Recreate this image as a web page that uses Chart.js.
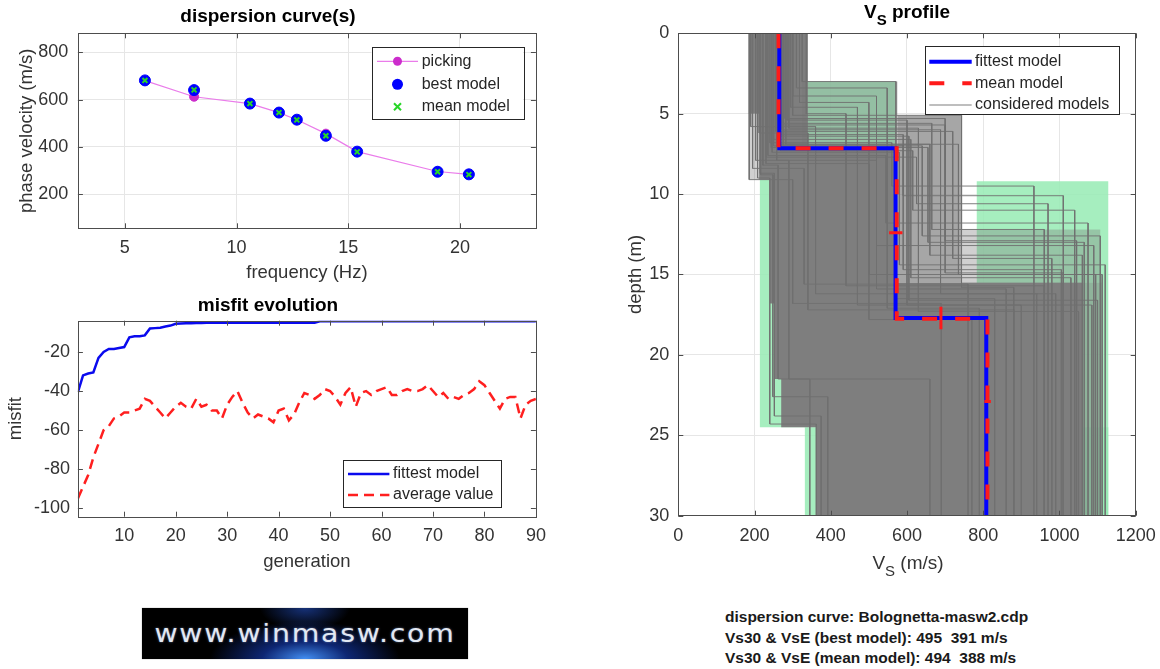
<!DOCTYPE html>
<html>
<head>
<meta charset="utf-8">
<script src="https://cdn.jsdelivr.net/npm/chart.js@4.4.1/dist/chart.umd.min.js"></script>
<style>
  body { margin: 0; background: #fff; }
  #page { position: relative; width: 1160px; height: 669px; overflow: hidden; font-family: "Liberation Sans", Arial, sans-serif; color: #262626; }
  canvas { position: absolute; }
  .lbl { position: absolute; white-space: nowrap; transform: translate(-50%, -50%); line-height: 1; }
  .sub { position: relative; top: 7px; font-size: 15px; }
  #info { position: absolute; left: 725px; top: 607px; font-weight: bold; font-size: 15.5px; line-height: 20.7px; color: #1a1a1a; white-space: nowrap; }
  #logo { position: absolute; left: 142px; top: 608px; width: 326px; height: 51px;
    background:
      radial-gradient(ellipse 95px 38px at 50% 100%, rgba(70,150,255,0.95), rgba(25,70,210,0.55) 45%, rgba(0,0,0,0) 100%),
      radial-gradient(ellipse 45px 22px at 50% 0%, rgba(40,90,220,0.55), rgba(0,0,0,0) 100%),
      #000;
    box-shadow: 0 0 1px #888; }
  #logo span { position: absolute; left: 50%; top: 12px; transform: translateX(-50%) scaleX(1.18); white-space: nowrap; font-family: "DejaVu Sans", sans-serif; font-size: 24px; letter-spacing: 1.5px; color: #e2e8f2; text-shadow: 0 0 2px rgba(160,190,255,0.6); }
</style>
</head>
<body>
<div id="page">
  <canvas id="dispersion" width="560" height="290" style="left:0;top:0"></canvas>
  <canvas id="misfit" width="560" height="290" style="left:0;top:290px"></canvas>
  <canvas id="profile" width="600" height="590" style="left:600px;top:0"></canvas>
  <div class="lbl" style="left:907px;top:11px;font-weight:bold;font-size:19px;color:#000">V<span class="sub">S</span> profile</div>
  <div class="lbl" style="left:908px;top:562px;font-size:19px;color:#333">V<span class="sub">S</span> (m/s)</div>
  <div id="logo"><span>www.winmasw.com</span></div>
  <div id="info">dispersion curve: Bolognetta-masw2.cdp<br>Vs30 &amp; VsE (best model): 495&nbsp; 391 m/s<br>Vs30 &amp; VsE (mean model): 494&nbsp; 388 m/s</div>
</div>
<script>
// dispersion curve(s)
const freq = [5.9, 8.1, 10.6, 11.9, 12.7, 14.0, 15.4, 19.0, 20.4]
const picking = [680, 612, 583, 545, 515, 456, 380, 296, 284]
const bestModel = [681, 640, 583, 545, 515, 447, 380, 295, 284]
const meanModel = [681, 641, 583, 545, 514, 447, 379, 295, 283]
const freqTicks = [5, 10, 15, 20]
const velocityTicks = [200, 400, 600, 800]

// misfit evolution
const generation = Array.from({length: 90}, (_, i) => i + 1)
const fittest = [
	-40.5, -32, -31, -30.5, -23, -20, -18.5, -18.5, -18, -17.5,
	-12.5, -12, -12, -11.5, -8, -7.8, -7.6, -7, -6.5, -5.6,
	-5.4, -5.3, -5.3, -5.2, -5.2, -5.1, -5.1, -5, -5, -5,
	-5, -5, -5, -5, -5, -5, -5, -5, -5, -5,
	-5, -5, -5, -5, -5, -5, -5, -4.3, -4.3, -4.3,
	-4.3, -4.3, -4.3, -4.3, -4.3, -4.3, -4.3, -4.3, -4.3, -4.3,
	-4.3, -4.3, -4.3, -4.3, -4.3, -4.3, -4.3, -4.3, -4.3, -4.3,
	-4.3, -4.3, -4.3, -4.3, -4.3, -4.3, -4.3, -4.3, -4.3, -4.3,
	-4.3, -4.3, -4.3, -4.3, -4.3, -4.3, -4.3, -4.3, -4.3, -4.3
]
const average = [
	-95, -89, -83, -74, -67, -60, -58, -54, -53, -51,
	-51, -50, -49, -44, -45, -48, -51, -54, -51, -48,
	-46, -48, -49, -44, -48, -47, -50, -50, -54, -47,
	-43, -40, -46, -51, -54, -52, -53, -54, -56, -50,
	-49, -55, -52, -46, -41, -42, -44, -42, -39, -40,
	-43, -47, -41, -38, -48, -41, -40, -42, -40, -39,
	-38, -42, -42, -40, -39, -40, -40, -39, -37, -40,
	-43, -41, -44, -43, -44, -42, -41, -39, -35, -37,
	-41, -45, -49, -44, -43, -43, -54, -47, -45, -44
]
const generationTicks = [10, 20, 30, 40, 50, 60, 70, 80, 90]
const misfitTicks = [-100, -80, -60, -40, -20]

// Vs profile (Vs in m/s, depth in m)
const maxDepth = 30
const vsTicks = [0, 200, 400, 600, 800, 1000, 1200]
const depthTicks = [0, 5, 10, 15, 20, 25, 30]
const fitVs = [265, 570, 808]
const fitDepth = [7.15, 17.7]
const meanVs = [263, 573, 811]
const meanDepth = [7.15, 17.75]
const errVsDepth = [12.4, 22.9]
const errVsLo = [553, 803]
const errVsHi = [588, 820]
const errDepthVs = [689]
const errDepthLo = [17.0]
const errDepthHi = [18.4]

// considered models: layer 1 Vs / bottom, layer 2 Vs / bottom, half-space Vs
const modelVs1 = [186, 195, 203, 212, 190, 325, 310, 300, 318, 295, 336, 300, 280, 270, 290, 255, 262, 240, 250, 268, 235, 275, 258, 282, 246, 230, 208, 215, 222, 216, 250, 272, 244, 286, 260, 231, 276, 266]
const modelZ1 = [9.1, 8.4, 7.9, 6.2, 5.8, 3.0, 3.4, 3.9, 4.3, 4.6, 5.0, 5.1, 5.3, 5.6, 5.9, 6.1, 6.4, 6.8, 7.0, 7.3, 7.6, 7.0, 7.9, 6.9, 7.4, 8.1, 9.0, 8.7, 8.2, 8.8, 6.6, 6.0, 7.1, 5.4, 6.9, 7.7, 5.7, 6.3]
const modelVs2 = [300, 330, 290, 340, 360, 571, 548, 520, 500, 470, 440, 743, 700, 665, 630, 720, 605, 560, 590, 615, 545, 640, 520, 660, 580, 500, 240, 252, 262, 248, 610, 688, 655, 600, 735, 625, 700, 590]
const modelZ2 = [16.8, 15.6, 21.5, 17.2, 16.2, 16.5, 17.1, 15.9, 17.8, 16.9, 15.7, 15.8, 14.9, 12.2, 17.3, 14.0, 16.6, 9.5, 10.1, 11.0, 11.8, 12.6, 13.2, 13.8, 14.4, 15.0, 24.3, 23.8, 21.5, 22.6, 15.2, 16.2, 13.0, 16.9, 15.0, 10.6, 12.9, 14.7]
const modelVs3 = [690, 760, 660, 880, 940, 830, 790, 860, 770, 900, 960, 880, 1010, 960, 1050, 980, 1100, 933, 1010, 1040, 1075, 1107, 1090, 1060, 1120, 1095, 362, 375, 345, 392, 1030, 990, 1065, 1085, 1112, 970, 1045, 1005]

// dense core of the considered models
const coreVs = [185, 340, 340, 575, 575, 1060, 1060, 362, 362, 270, 270, 252, 252, 240, 240, 212, 212, 185]
const coreDepth = [0, 0, 7.2, 7.2, 15.5, 15.5, 30, 30, 24.5, 24.5, 21.5, 21.5, 16.8, 16.8, 9.1, 9.1, 5.0, 5.0]
// partly covered zones
const shadeVsLo = [325, 575, 745, 1060, 185]
const shadeVsHi = [575, 745, 1107, 1110, 212]
const shadeTop = [3.0, 5.1, 12.2, 15.5, 5.0]
const shadeBottom = [7.2, 15.5, 15.5, 30, 9.1]
const shadeOpacity = [0.4, 0.66, 0.35, 0.5, 0.35]
// green search space
const greenVsLo = [325, 214, 783, 332]
const greenVsHi = [571, 571, 1128, 1128]
const greenTop = [3.0, 9.1, 9.2, 24.5]
const greenBottom = [9.1, 24.5, 30, 30]

const FONT = '"Liberation Sans", Arial, Helvetica, sans-serif'
Chart.defaults.font.family = FONT
Chart.defaults.color = '#333'

function fixedTicks(values) {
	return function(scale) {
		scale.ticks = values.map(v => ({value: v}))
	}
}

// box with inward ticks, plus a MATLAB style legend
const frame = {
	id: 'frame',
	afterDatasetsDraw(chart, args, o) {
		const {ctx, chartArea: a, scales} = chart
		ctx.save()
		ctx.strokeStyle = '#4d4d4d'
		ctx.lineWidth = 1
		ctx.beginPath()
		scales.x.ticks.forEach(t => {
			const px = Math.round(scales.x.getPixelForValue(t.value)) + 0.5
			ctx.moveTo(px, a.bottom); ctx.lineTo(px, a.bottom - 5)
			ctx.moveTo(px, a.top); ctx.lineTo(px, a.top + 5)
		})
		scales.y.ticks.forEach(t => {
			const py = Math.round(scales.y.getPixelForValue(t.value)) + 0.5
			ctx.moveTo(a.left, py); ctx.lineTo(a.left + 5, py)
			ctx.moveTo(a.right, py); ctx.lineTo(a.right - 5, py)
		})
		ctx.stroke()
		ctx.strokeRect(Math.round(a.left) + 0.5, Math.round(a.top) + 0.5, Math.round(a.width), Math.round(a.height))

		if (o && o.items) {
			ctx.fillStyle = '#fff'
			ctx.fillRect(o.x, o.y, o.w, o.h)
			ctx.strokeStyle = '#262626'
			ctx.strokeRect(Math.round(o.x) + 0.5, Math.round(o.y) + 0.5, Math.round(o.w), Math.round(o.h))
			o.items.forEach((idx, i) => {
				const ds = chart.data.datasets[idx]
				const y = o.rows[i]
				const mid = (o.x0 + o.x1) / 2
				if (ds.showLine) {
					ctx.strokeStyle = ds.borderColor
					ctx.lineWidth = ds.borderWidth
					ctx.setLineDash(ds.borderDash || [])
					ctx.beginPath(); ctx.moveTo(o.x0, y); ctx.lineTo(o.x1, y); ctx.stroke()
					ctx.setLineDash([])
				}
				if (ds.pointRadius > 0) {
					const r = ds.pointRadius
					if (ds.pointStyle === 'crossRot') {
						ctx.strokeStyle = ds.pointBorderColor
						ctx.lineWidth = ds.pointBorderWidth
						ctx.beginPath()
						ctx.moveTo(mid - r, y - r); ctx.lineTo(mid + r, y + r)
						ctx.moveTo(mid - r, y + r); ctx.lineTo(mid + r, y - r)
						ctx.stroke()
					} else {
						ctx.fillStyle = ds.pointBackgroundColor
						ctx.beginPath(); ctx.arc(mid, y, r, 0, Math.PI * 2); ctx.fill()
					}
				}
				ctx.fillStyle = '#262626'
				ctx.font = '16px ' + FONT
				ctx.textBaseline = 'middle'
				ctx.fillText(ds.label, o.textX, y)
			})
		}
		ctx.restore()
	}
}

const common = {
	responsive: false,
	animation: false,
	devicePixelRatio: 1,
	events: []
}

function axis(opts) {
	return {
		type: 'linear',
		min: opts.min,
		max: opts.max,
		reverse: !!opts.reverse,
		afterBuildTicks: fixedTicks(opts.ticks),
		afterFit: opts.fit,
		border: {display: false},
		grid: {display: opts.grid, color: '#e6e6e6', drawTicks: false},
		ticks: {padding: opts.pad, font: {size: 18}, color: '#333', callback: v => String(v)},
		title: {display: !!opts.title, text: opts.title, font: {size: 18.5}, color: '#333', padding: opts.titlePad}
	}
}

const pts = (xs, ys) => xs.map((x, i) => ({x: x, y: ys[i]}))

// chart 1
new Chart(document.getElementById('dispersion'), {
	type: 'scatter',
	data: {
		datasets: [{
			label: 'picking',
			data: pts(freq, picking),
			showLine: true,
			borderColor: '#ea7cea',
			borderWidth: 1.2,
			pointRadius: 4.5,
			pointBackgroundColor: '#cc2ccc',
			pointBorderColor: '#cc2ccc',
			pointBorderWidth: 1,
			order: 2
		}, {
			label: 'best model',
			data: pts(freq, bestModel),
			pointRadius: 5.5,
			pointBackgroundColor: '#0000ff',
			pointBorderColor: '#0000ff',
			pointBorderWidth: 1,
			order: 1
		}, {
			label: 'mean model',
			data: pts(freq, meanModel),
			pointStyle: 'crossRot',
			pointRadius: 3.5,
			pointBorderColor: '#27d627',
			pointBorderWidth: 2,
			order: 0
		}]
	},
	options: Object.assign({}, common, {
		layout: {padding: {left: 0, right: 24.1, top: 0, bottom: 0}},
		plugins: {
			legend: {display: false},
			tooltip: {enabled: false},
			title: {display: true, text: 'dispersion curve(s)', color: '#000', font: {size: 19, weight: 'bold'}, padding: {top: 5.6, bottom: 4.9}},
			frame: {x: 371.5, y: 47, w: 151.5, h: 72.3, x0: 377, x1: 418, textX: 421.7, rows: [61.3, 84.3, 106.7], items: [0, 1, 2]}
		},
		scales: {
			x: axis({min: 2.9, max: 23.4, ticks: freqTicks, pad: 8.9, grid: true, fit: s => { s.height = 61.7 }, title: 'frequency (Hz)', titlePad: {top: 0, bottom: 5.9}}),
			y: axis({min: 56, max: 880, ticks: velocityTicks, pad: 9.7, grid: true, fit: s => { s.width = 77.9 }, title: 'phase velocity (m/s)', titlePad: {top: 15.9, bottom: 0}})
		}
	}),
	plugins: [frame]
})

// chart 2
new Chart(document.getElementById('misfit'), {
	type: 'line',
	data: {
		labels: generation,
		datasets: [{
			label: 'fittest model',
			data: fittest,
			showLine: true,
			borderColor: '#0a0aee',
			borderWidth: 2.5,
			pointRadius: 0,
			tension: 0
		}, {
			label: 'average value',
			data: average,
			showLine: true,
			borderColor: '#ff1f1f',
			borderWidth: 2.5,
			borderDash: [10, 6],
			pointRadius: 0,
			tension: 0
		}]
	},
	options: Object.assign({}, common, {
		layout: {padding: {left: 0, right: 24.1, top: 0, bottom: 0}},
		plugins: {
			legend: {display: false},
			tooltip: {enabled: false},
			title: {display: true, text: 'misfit evolution', color: '#000', font: {size: 19, weight: 'bold'}, padding: {top: 4.6, bottom: 3.3}},
			frame: {x: 342.8, y: 170, w: 157.9, h: 46.7, x0: 348, x1: 389.4, textX: 393, rows: [184, 205], items: [0, 1]}
		},
		scales: {
			x: axis({min: 1, max: 90, ticks: generationTicks, pad: 8.5, grid: false, fit: s => { s.height = 63.3 }, title: 'generation', titlePad: {top: 0, bottom: 7.2}}),
			y: axis({min: -104.3, max: -4, ticks: misfitTicks, pad: 7.9, grid: false, fit: s => { s.width = 77.9 }, title: 'misfit', titlePad: {top: 5.1, bottom: 0}})
		}
	}),
	plugins: [frame]
})

// chart 3
const stepPoints = (vs, z) => [
	{x: vs[0], y: 0}, {x: vs[0], y: z[0]},
	{x: vs[1], y: z[0]}, {x: vs[1], y: z[1]},
	{x: vs[2], y: z[1]}, {x: vs[2], y: maxDepth}
]
const rectPoints = (x0, x1, y0, y1) => [{x: x0, y: y0}, {x: x1, y: y0}, {x: x1, y: y1}, {x: x0, y: y1}]
const areaSet = (data, color, order) => ({
	data: data, showLine: true, fill: 'shape', backgroundColor: color,
	borderColor: 'transparent', borderWidth: 0, pointRadius: 0, order: order, clip: 0
})

const profileSets = []
greenVsLo.forEach((v, i) => {
	profileSets.push(areaSet(rectPoints(v, greenVsHi[i], greenTop[i], greenBottom[i]), 'rgba(150,235,180,0.85)', 10))
})
profileSets.push(areaSet(pts(coreVs, coreDepth), 'rgb(126,126,126)', 9))
shadeVsLo.forEach((v, i) => {
	profileSets.push(areaSet(rectPoints(v, shadeVsHi[i], shadeTop[i], shadeBottom[i]), 'rgba(120,120,120,' + shadeOpacity[i] + ')', 8))
})
const modelIndex = profileSets.length
modelVs1.forEach((v, i) => {
	profileSets.push({
		label: 'considered models',
		data: stepPoints([v, modelVs2[i], modelVs3[i]], [modelZ1[i], modelZ2[i]]),
		showLine: true, borderColor: 'rgba(112,112,112,0.9)', borderWidth: 1, pointRadius: 0, order: 7
	})
})
const fitIndex = profileSets.length
profileSets.push({
	label: 'fittest model',
	data: stepPoints(fitVs, fitDepth),
	showLine: true, borderColor: '#0000ff', borderWidth: 4, pointRadius: 0, order: 2
})
const meanIndex = profileSets.length
profileSets.push({
	label: 'mean model',
	data: stepPoints(meanVs, meanDepth),
	showLine: true, borderColor: '#ff1a1a', borderWidth: 4, borderDash: [15, 18], pointRadius: 0, order: 1
})
errVsDepth.forEach((d, i) => {
	profileSets.push({data: [{x: errVsLo[i], y: d}, {x: errVsHi[i], y: d}], showLine: true, borderColor: '#ff1a1a', borderWidth: 3, pointRadius: 0, order: 0})
})
errDepthVs.forEach((v, i) => {
	profileSets.push({data: [{x: v, y: errDepthLo[i]}, {x: v, y: errDepthHi[i]}], showLine: true, borderColor: '#ff1a1a', borderWidth: 3, pointRadius: 0, order: 0})
})

new Chart(document.getElementById('profile'), {
	type: 'scatter',
	data: {datasets: profileSets},
	options: Object.assign({}, common, {
		layout: {padding: {left: 0, right: 64.3, top: 33.3, bottom: 0}},
		plugins: {
			legend: {display: false},
			tooltip: {enabled: false},
			frame: {x: 325, y: 46.3, w: 194, h: 68.4, x0: 329.3, x1: 371.7, textX: 375, rows: [61.7, 83.3, 105], items: [fitIndex, meanIndex, modelIndex]}
		},
		scales: {
			x: axis({min: 0, max: 1200, ticks: vsTicks, pad: 9.5, grid: true, fit: s => { s.height = 74.3 }}),
			y: axis({min: 0, max: maxDepth, ticks: depthTicks, pad: 9, reverse: true, grid: true, fit: s => { s.width = 78.3 }, title: 'depth (m)', titlePad: {top: 24.9, bottom: 0}})
		}
	}),
	plugins: [frame]
})
</script>
</body>
</html>
